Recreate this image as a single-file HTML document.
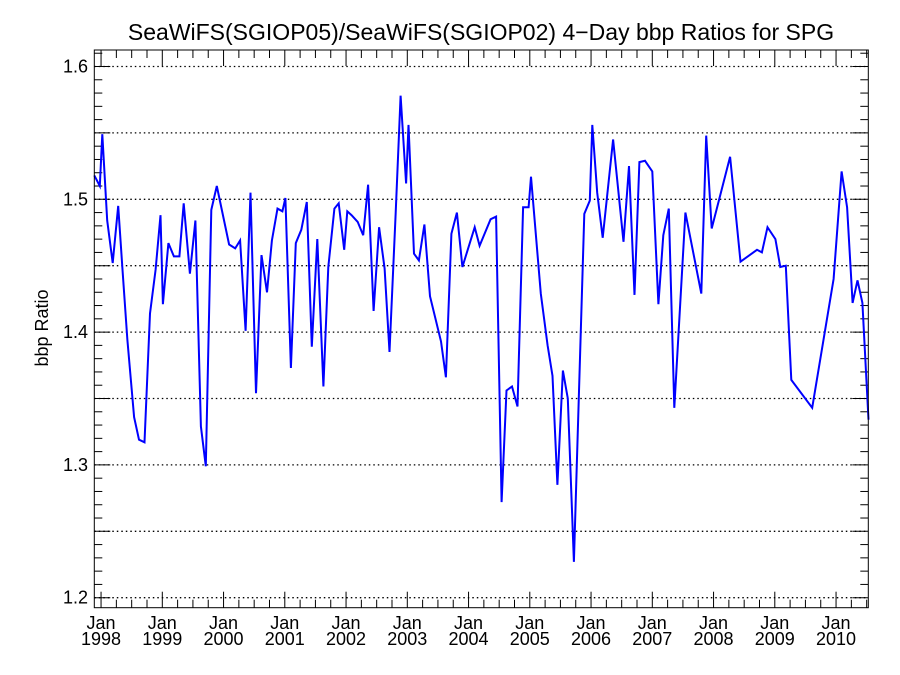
<!DOCTYPE html>
<html><head><meta charset="utf-8"><style>
body{margin:0;background:#fff;}
svg{display:block;font-family:"Liberation Sans",sans-serif;}
</style></head><body>
<svg id="chart" width="900" height="675" xmlns="http://www.w3.org/2000/svg">
<text x="481" y="40" font-size="23" text-anchor="middle">SeaWiFS(SGIOP05)/SeaWiFS(SGIOP02) 4−Day bbp Ratios for SPG</text>
<text transform="translate(48,328) rotate(-90)" font-size="18" text-anchor="middle">bbp Ratio</text>
<g id="grid"></g>
<g id="ticks"></g>
<g id="labels"></g>
<path id="line" fill="none" stroke="#0000ff" stroke-width="2"/>
<rect x="94.3" y="50" width="774" height="557.7" fill="none" stroke="#000" stroke-width="1"/>
</svg>
<script>
const dates=[1997.89,1997.98,1998.02,1998.10,1998.19,1998.28,1998.35,1998.43,1998.54,1998.62,1998.71,1998.80,1998.89,1998.97,1999.01,1999.10,1999.19,1999.28,1999.35,1999.45,1999.54,1999.63,1999.71,1999.80,1999.89,2000.09,2000.19,2000.27,2000.36,2000.44,2000.53,2000.62,2000.71,2000.79,2000.88,2000.96,2001.01,2001.10,2001.18,2001.27,2001.36,2001.44,2001.53,2001.63,2001.71,2001.81,2001.88,2001.97,2002.02,2002.09,2002.19,2002.28,2002.36,2002.45,2002.54,2002.63,2002.71,2002.81,2002.89,2002.98,2003.02,2003.11,2003.19,2003.28,2003.37,2003.55,2003.63,2003.72,2003.81,2003.90,2004.10,2004.18,2004.36,2004.45,2004.54,2004.62,2004.71,2004.80,2004.89,2004.98,2005.02,2005.18,2005.29,2005.37,2005.45,2005.54,2005.62,2005.72,2005.89,2005.98,2006.02,2006.10,2006.19,2006.36,2006.53,2006.62,2006.71,2006.79,2006.88,2007.00,2007.10,2007.18,2007.27,2007.36,2007.54,2007.80,2007.88,2007.97,2008.27,2008.44,2008.71,2008.79,2008.88,2009.01,2009.09,2009.18,2009.27,2009.61,2009.96,2010.09,2010.18,2010.27,2010.35,2010.43,2010.53];
const ratios=[1.518,1.510,1.549,1.484,1.452,1.495,1.447,1.394,1.336,1.319,1.317,1.414,1.447,1.488,1.421,1.467,1.457,1.457,1.497,1.444,1.484,1.329,1.299,1.492,1.510,1.466,1.463,1.469,1.401,1.505,1.354,1.458,1.430,1.469,1.493,1.491,1.501,1.373,1.467,1.477,1.498,1.389,1.470,1.359,1.449,1.493,1.497,1.462,1.491,1.488,1.483,1.473,1.511,1.416,1.479,1.448,1.385,1.490,1.578,1.512,1.556,1.459,1.454,1.481,1.427,1.393,1.366,1.474,1.490,1.449,1.479,1.465,1.485,1.487,1.272,1.356,1.359,1.344,1.494,1.494,1.517,1.429,1.390,1.367,1.285,1.371,1.350,1.227,1.489,1.499,1.556,1.505,1.471,1.545,1.468,1.525,1.428,1.528,1.529,1.521,1.421,1.473,1.493,1.343,1.490,1.429,1.548,1.478,1.532,1.453,1.462,1.460,1.479,1.470,1.449,1.450,1.364,1.343,1.440,1.521,1.494,1.422,1.439,1.422,1.334];
const yLabels=["1.2","1.3","1.4","1.5","1.6"];
const xYears=[1998,1999,2000,2001,2002,2003,2004,2005,2006,2007,2008,2009,2010];
const L=94.3,R=868.3,T=50,B=607.7;
function xs(t){return 162.3+(t-1999)*61.25;}
function ys(v){return 66.5+(1.6-v)*1328;}
const NS="http://www.w3.org/2000/svg";
function mk(tag,attrs,parent){const e=document.createElementNS(NS,tag);for(const k in attrs)e.setAttribute(k,attrs[k]);parent.appendChild(e);return e;}
const grid=document.getElementById('grid'),ticks=document.getElementById('ticks'),labels=document.getElementById('labels');
// y ticks
for(let i=120;i<=161;i++){const v=i/100,y=ys(v);if(y<T-0.5||y>B+0.5)continue;
 const major=(i%5===0);const len=major?16:8;
 const t1=mk('line',{x1:L,x2:L+len,y1:y,y2:y,stroke:'#000','stroke-width':1},ticks);
 
 const t2=mk('line',{x1:R,x2:R-len,y1:y,y2:y,stroke:'#000','stroke-width':1},ticks);
 
 if(major){const g=mk('line',{x1:L,x2:R,y1:y,y2:y,stroke:'#000','stroke-width':1.3,'stroke-dasharray':'1.5,3'},grid);
  }
}
yLabels.forEach(s=>{const y=ys(parseFloat(s));const t=mk('text',{x:88,y:y+6,'font-size':18,'text-anchor':'end'},labels);t.textContent=s;
 });
// x ticks
for(let q=1998*4;q<=2010*4+2;q++){const t=q/4,x=xs(t);if(x<L-0.5||x>R+0.5)continue;
 const major=(q%4===0);const len=major?16:8;
 const a=mk('line',{x1:x,x2:x,y1:B,y2:B-len,stroke:'#000','stroke-width':1},ticks);
 
 const b=mk('line',{x1:x,x2:x,y1:T,y2:T+len,stroke:'#000','stroke-width':1},ticks);
 }
xYears.forEach(yr=>{let x=xs(yr);if(x<L)x=L+4;
 const t=mk('text',{x:x,y:629,'font-size':18,'text-anchor':'middle'},labels);t.textContent='Jan';
 
 const u=mk('text',{x:x,y:645,'font-size':18,'text-anchor':'middle'},labels);u.textContent=String(yr);
 });
let d='';dates.forEach((t,i)=>{d+=(i?'L':'M')+xs(t).toFixed(1)+','+ys(ratios[i]).toFixed(1);});
document.getElementById('line').setAttribute('d',d);
</script>
</body></html>
